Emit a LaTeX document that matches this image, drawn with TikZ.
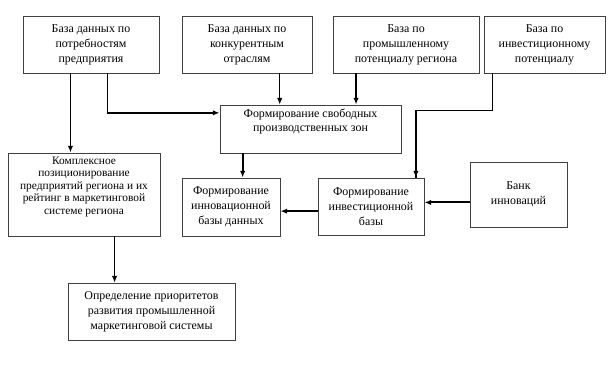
\documentclass[tikz,border=0pt]{standalone}
\usepackage{fontspec}
\setmainfont{Liberation Serif}
\usepackage{xcolor}
\usepackage{tikz}
\usetikzlibrary{arrows.meta,calc,positioning}
\newlength\px
\setlength\px{0.0265cm}

\begin{document}
\begin{tikzpicture}[x=\px,y=-\px,>={Latex[length=5pt,width=4pt]},
  block/.style={draw=black!75,line width=0.7pt,inner sep=0pt,align=center,
    font=\fontsize{9}{11.25}\selectfont},
  thk/.style={line width=1.4pt},
  thn/.style={line width=0.7pt}]
\useasboundingbox (0,0) rectangle (614,370);
% top row
\node[block,minimum width=136\px,minimum height=57\px] (potreb) at (91,44.5)
  {База данных по\\потребностям\\предприятия};
\node[block,minimum width=130\px,minimum height=57\px] (konkur) at (247,44.5)
  {База данных по\\конкурентным\\отраслям};
\node[block,minimum width=146\px,minimum height=57\px] (prom) at (406,44.5)
  {База по\\промышленному\\потенциалу региона};
\node[block,minimum width=121\px,minimum height=57\px] (invpot) at (544.5,44.5)
  {База по\\инвестиционному\\потенциалу};
% middle
\node[block,minimum width=181\px,minimum height=48\px] (zony) at (310.5,129)
  {Формирование свободных\\производственных зон\\[2pt]};
\node[block,minimum width=152\px,minimum height=83\px,
  font=\fontsize{8.6}{9.4}\selectfont] (kompl) at (84,194.5)
  {Комплексное\\позиционирование\\предприятий региона и их\\рейтинг в маркетинговой\\системе региона\\[4pt]};
\node[block,minimum width=98\px,minimum height=58\px] (innov) at (231,207)
  {Формирование\\инновационной\\базы данных};
\node[block,minimum width=106\px,minimum height=57\px] (invest) at (371,206.5)
  {Формирование\\инвестиционной\\базы};
\node[block,minimum width=97\px,minimum height=65\px] (bank) at (518.5,194.5)
  {Банк\\инноваций};
% bottom
\node[block,minimum width=167\px,minimum height=57\px] (prior) at (151.5,311.5)
  {Определение приоритетов\\развития промышленной\\маркетинговой системы};

% connectors
\coordinate (p1) at ($(potreb.south west)!0.35!(potreb.south east)$);
\draw[thk,->] (p1) -- (p1 |- kompl.north);
\coordinate (p2) at ($(potreb.south west)!0.62!(potreb.south east)$);
\coordinate (z1) at ($(zony.north west)!0.17!(zony.south west)$);
\draw[thk,->] (p2) |- (z1);
\coordinate (k1) at ($(konkur.south west)!0.75!(konkur.south east)$);
\draw[thn,->] (k1) -- (k1 |- zony.north);
\coordinate (c1) at ($(prom.south west)!0.16!(prom.south east)$);
\draw[thk,->] (c1) -- (c1 |- zony.north);
\coordinate (d1) at ($(invpot.south west)!0.07!(invpot.south east)$);
\coordinate (h1) at ($(invest.north west)!0.92!(invest.north east)$);
\coordinate (mid) at ($(d1)!0.36!(h1)$);
\draw[thn,->] (d1) -- (d1 |- mid) -| (h1);
\draw[thk] (mid -| h1) -- (h1);
\coordinate (e1) at ($(zony.south west)!0.127!(zony.south east)$);
\draw[thk,->] (e1) -- (e1 |- innov.north);
\coordinate (h2) at ($(invest.north west)!0.58!(invest.south west)$);
\draw[thk,->] (h2) -- (h2 -| innov.east);
\coordinate (b1) at ($(bank.north west)!0.62!(bank.south west)$);
\draw[thk,->] (b1) -- (b1 -| invest.east);
\coordinate (f1) at ($(kompl.south west)!0.70!(kompl.south east)$);
\draw[thn,->] (f1) -- (f1 |- prior.north);
\end{tikzpicture}
\end{document}
